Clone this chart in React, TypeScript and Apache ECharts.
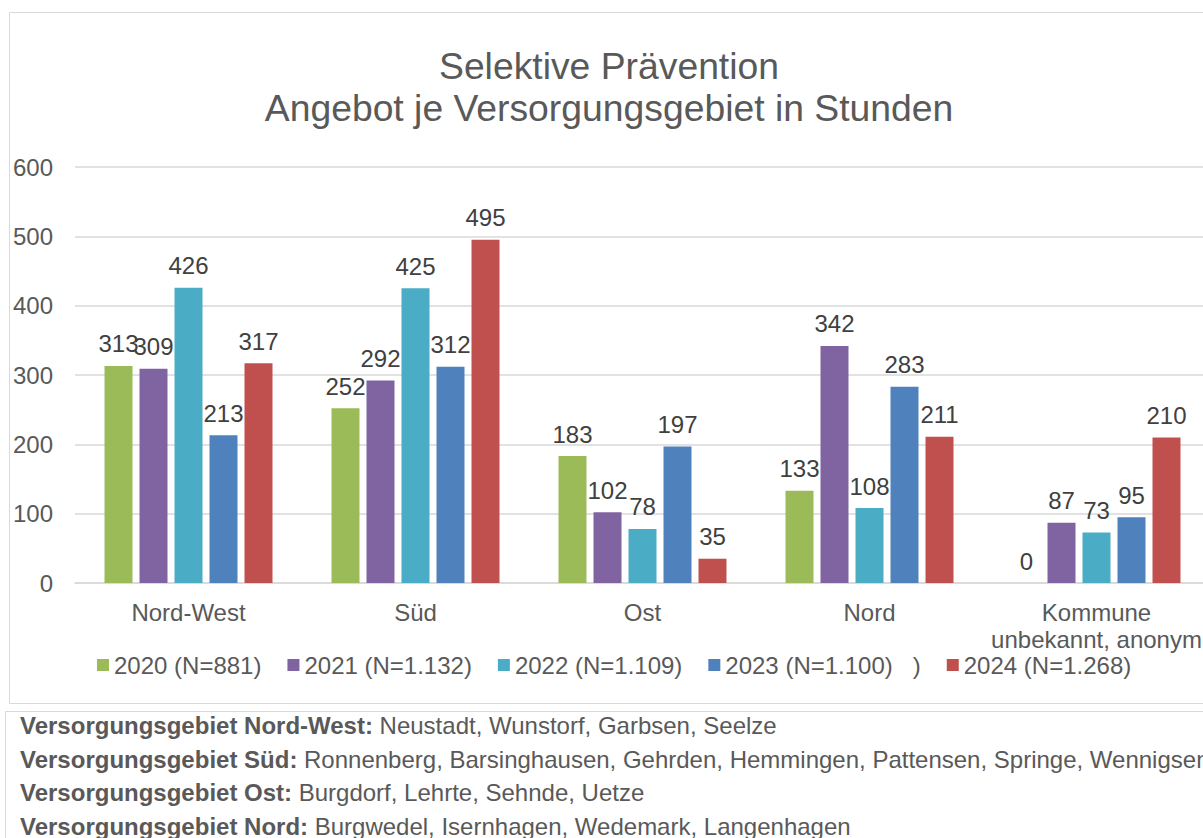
import React, { useEffect, useRef } from "react";
import * as echarts from "echarts";

const categories = ["Nord-West", "Süd", "Ost", "Nord", "Kommune\nunbekannt, anonym"];
const seriesNames = [
  "2020 (N=881)",
  "2021 (N=1.132)",
  "2022 (N=1.109)",
  "2023 (N=1.100)\u00A0\u00A0\u00A0)",
  "2024 (N=1.268)",
];
const values2020 = [313, 252, 183, 133, 0];
const values2021 = [309, 292, 102, 342, 87];
const values2022 = [426, 425, 78, 108, 73];
const values2023 = [213, 312, 197, 283, 95];
const values2024 = [317, 495, 35, 211, 210];
const seriesColors = ["#9BBB59", "#8064A2", "#4BACC6", "#4F81BD", "#C0504D"];
const yMin = 0;
const yMax = 600;
const yInterval = 100;

const titleLines = ["Selektive Prävention", "Angebot je Versorgungsgebiet in Stunden"];
const footerHeads = [
  "Versorgungsgebiet Nord-West:",
  "Versorgungsgebiet Süd:",
  "Versorgungsgebiet Ost:",
  "Versorgungsgebiet Nord:",
];
const footerTexts = [
  "Neustadt, Wunstorf, Garbsen, Seelze",
  "Ronnenberg, Barsinghausen, Gehrden, Hemmingen, Pattensen, Springe, Wennigsen",
  "Burgdorf, Lehrte, Sehnde, Uetze",
  "Burgwedel, Isernhagen, Wedemark, Langenhagen",
];

const FONT = "'Liberation Sans', Arial, sans-serif";
const FS = 24;
const GRAY = "#595959";

export default function App() {
  const ref = useRef<HTMLDivElement>(null);

  useEffect(() => {
    if (!ref.current) return;
    const chart = echarts.init(ref.current, undefined, { renderer: "svg" });
    const allValues = [values2020, values2021, values2022, values2023, values2024];

    const footerGraphics = footerHeads.map((h, i) => ({
      type: "text",
      x: 20,
      y: 725.5 + i * 33.6,
      style: {
        text: `{b|${h}} ${footerTexts[i]}`,
        fill: GRAY,
        fontFamily: FONT,
        fontSize: FS,
        verticalAlign: "middle",
        rich: {
          b: { fontWeight: "bold", fontFamily: FONT, fontSize: FS, fill: GRAY },
        },
      },
    }));

    chart.setOption({
      animation: false,
      backgroundColor: "#ffffff",
      textStyle: { fontFamily: FONT },
      graphic: [
        {
          type: "rect",
          shape: { x: 9.5, y: 12.5, width: 1300, height: 691 },
          style: { fill: "none", stroke: "#d9d9d9", lineWidth: 1 },
          z: -10,
        },
        {
          type: "rect",
          shape: { x: 5.5, y: 711.5, width: 1300, height: 300 },
          style: { fill: "none", stroke: "#d9d9d9", lineWidth: 1 },
          z: -10,
        },
        {
          type: "text",
          x: 609,
          y: 87,
          style: {
            text: titleLines.join("\n"),
            fill: GRAY,
            fontFamily: FONT,
            fontSize: 37.3,
            lineHeight: 42,
            align: "center",
            verticalAlign: "middle",
          },
        },
        ...footerGraphics,
      ],
      legend: {
        left: 97,
        top: 653,
        padding: 0,
        itemWidth: 12,
        itemHeight: 12,
        itemGap: 26,
        icon: "rect",
        textStyle: { color: GRAY, fontSize: FS, fontFamily: FONT },
        data: seriesNames,
      },
      grid: { left: 75, top: 167, width: 1135, height: 416, containLabel: false },
      xAxis: {
        type: "category",
        data: categories,
        axisLine: { show: true, lineStyle: { color: "#d9d9d9", width: 1.5 } },
        axisTick: { show: false },
        axisLabel: {
          color: GRAY,
          fontSize: FS,
          fontFamily: FONT,
          margin: 16,
          lineHeight: 27,
          interval: 0,
        },
      },
      yAxis: {
        type: "value",
        min: yMin,
        max: yMax,
        interval: yInterval,
        axisLine: { show: false },
        axisTick: { show: false },
        splitLine: { lineStyle: { color: "#d9d9d9", width: 1.5 } },
        axisLabel: { color: GRAY, fontSize: FS, fontFamily: FONT, margin: 22 },
      },
      series: seriesNames.map((name, i) => ({
        name,
        type: "bar",
        data: allValues[i],
        barWidth: 28,
        barGap: "25%",
        itemStyle: { color: seriesColors[i] },
        label: {
          show: true,
          position: "top",
          distance: 10,
          color: "#404040",
          fontSize: FS,
          fontFamily: FONT,
        },
      })),
    });
    return () => chart.dispose();
  }, []);

  return (
    <div
      style={{
        position: "fixed",
        left: 0,
        top: 0,
        width: 1203,
        height: 838,
        overflow: "hidden",
        background: "#fff",
      }}
    >
      <div ref={ref} style={{ width: 1240, height: 838 }} />
    </div>
  );
}
